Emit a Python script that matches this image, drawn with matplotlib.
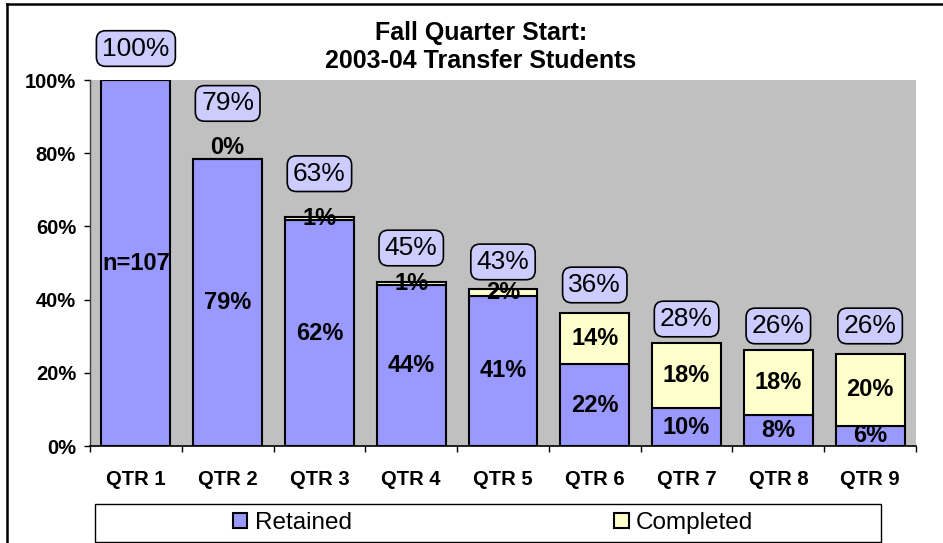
import matplotlib
matplotlib.use('Agg')
import matplotlib.pyplot as plt
from matplotlib.patches import Rectangle
from matplotlib.lines import Line2D

plt.rcParams['font.family'] = ['Liberation Sans', 'DejaVu Sans']

# ---- data ----
categories = ['QTR 1', 'QTR 2', 'QTR 3', 'QTR 4', 'QTR 5', 'QTR 6', 'QTR 7', 'QTR 8', 'QTR 9']
retained = [100.0, 78.5, 61.7, 43.9, 41.1, 22.4, 10.3, 8.4, 5.6]
completed = [0.0, 0.0, 0.9, 0.9, 1.9, 14.0, 17.8, 17.8, 19.6]
retained_labels = ['n=107', '79%', '62%', '44%', '41%', '22%', '10%', '8%', '6%']
completed_labels = ['', '0%', '1%', '1%', '2%', '14%', '18%', '18%', '20%']
total_labels = ['100%', '79%', '63%', '45%', '43%', '36%', '28%', '26%', '26%']
yticks = [0, 20, 40, 60, 80, 100]
ytick_labels = ['0%', '20%', '40%', '60%', '80%', '100%']
series_names = ['Retained', 'Completed']

# ---- layout (positions of the hand-placed total callouts, in axis % units) ----
total_label_y = [108.6, 93.6, 74.4, 54.1, 50.3, 44.0, 34.7, 32.8, 32.8]

W, H = 943, 543
fig = plt.figure(figsize=(W / 100, H / 100), dpi=100)
fig.patch.set_facecolor('white')

ax = fig.add_axes([90 / W, 1 - 446 / H, 826 / W, 366 / H])
ax.set_facecolor('#C0C0C0')

x = list(range(len(categories)))
b1 = ax.bar(x, retained, 0.75, color='#9999FF', edgecolor='black', linewidth=1.5,
            label=series_names[0], zorder=2)
b2 = ax.bar(x, completed, 0.75, bottom=retained, color='#FFFFCC', edgecolor='black',
            linewidth=1.5, label=series_names[1], zorder=2)

ax.set_xlim(-0.5, len(categories) - 0.5)
ax.set_ylim(0, 100)

# axes styling
for s in ['top', 'right']:
    ax.spines[s].set_visible(False)
ax.spines['left'].set_color('#404040')
ax.spines['left'].set_linewidth(1.0)
ax.spines['bottom'].set_color('black')
ax.spines['bottom'].set_linewidth(1.2)

ax.set_yticks(yticks)
ax.set_yticklabels(ytick_labels, fontsize=14.5, fontweight='bold')
ax.tick_params(axis='y', length=4, width=1, pad=6, color='black')

ax.set_xticks(x)
ax.set_xticklabels(categories, fontsize=14.5, fontweight='bold')
ax.tick_params(axis='x', which='major', length=0, pad=17)
ax.set_xticks([i + 0.5 for i in x[:-1]] + [-0.5, len(categories) - 0.5], minor=True)
ax.tick_params(axis='x', which='minor', length=4, width=1, color='black')

# labels inside bars
for i in x:
    ax.text(i, retained[i] / 2, retained_labels[i], ha='center', va='center',
            fontsize=17, fontweight='bold', zorder=4)
    if completed_labels[i]:
        if completed[i] == 0:
            ax.text(i, retained[i] + completed[i], completed_labels[i], ha='center',
                    va='bottom', fontsize=17, fontweight='bold', zorder=4)
        else:
            ax.text(i, retained[i] + completed[i] / 2, completed_labels[i], ha='center',
                    va='center', fontsize=17, fontweight='bold', zorder=4)
    ax.text(i, total_label_y[i], total_labels[i], ha='center', va='center', fontsize=19,
            zorder=5, clip_on=False,
            bbox=dict(boxstyle='round,pad=0.22,rounding_size=0.35', facecolor='#CCCCFF',
                      edgecolor='black', linewidth=1.2))

# title
fig.text(481 / W, 1 - 47 / H, 'Fall Quarter Start:\n2003-04 Transfer Students',
         ha='center', va='center', fontsize=18, fontweight='bold', linespacing=1.25)

# legend
fig.legend([b1, b2], series_names, loc='center', bbox_to_anchor=(493 / W, 1 - 523 / H),
           ncol=2, frameon=False, fontsize=17.5, columnspacing=10.8,
           handlelength=0.6, handleheight=0.6, handletextpad=0.3, borderpad=0)
fig.add_artist(Rectangle((95 / W, 1 - 542 / H), 786 / W, 38 / H, transform=fig.transFigure,
                         fill=False, edgecolor='black', linewidth=1.0))

# outer chart frame (top and left edges visible)
fig.add_artist(Line2D([7 / W, 1.0], [1 - 4 / H, 1 - 4 / H], transform=fig.transFigure,
                      color='black', linewidth=1.8))
fig.add_artist(Line2D([7 / W, 7 / W], [1 - 4 / H, 0.0], transform=fig.transFigure,
                      color='black', linewidth=1.8))

fig.savefig('out.png', dpi=100)
